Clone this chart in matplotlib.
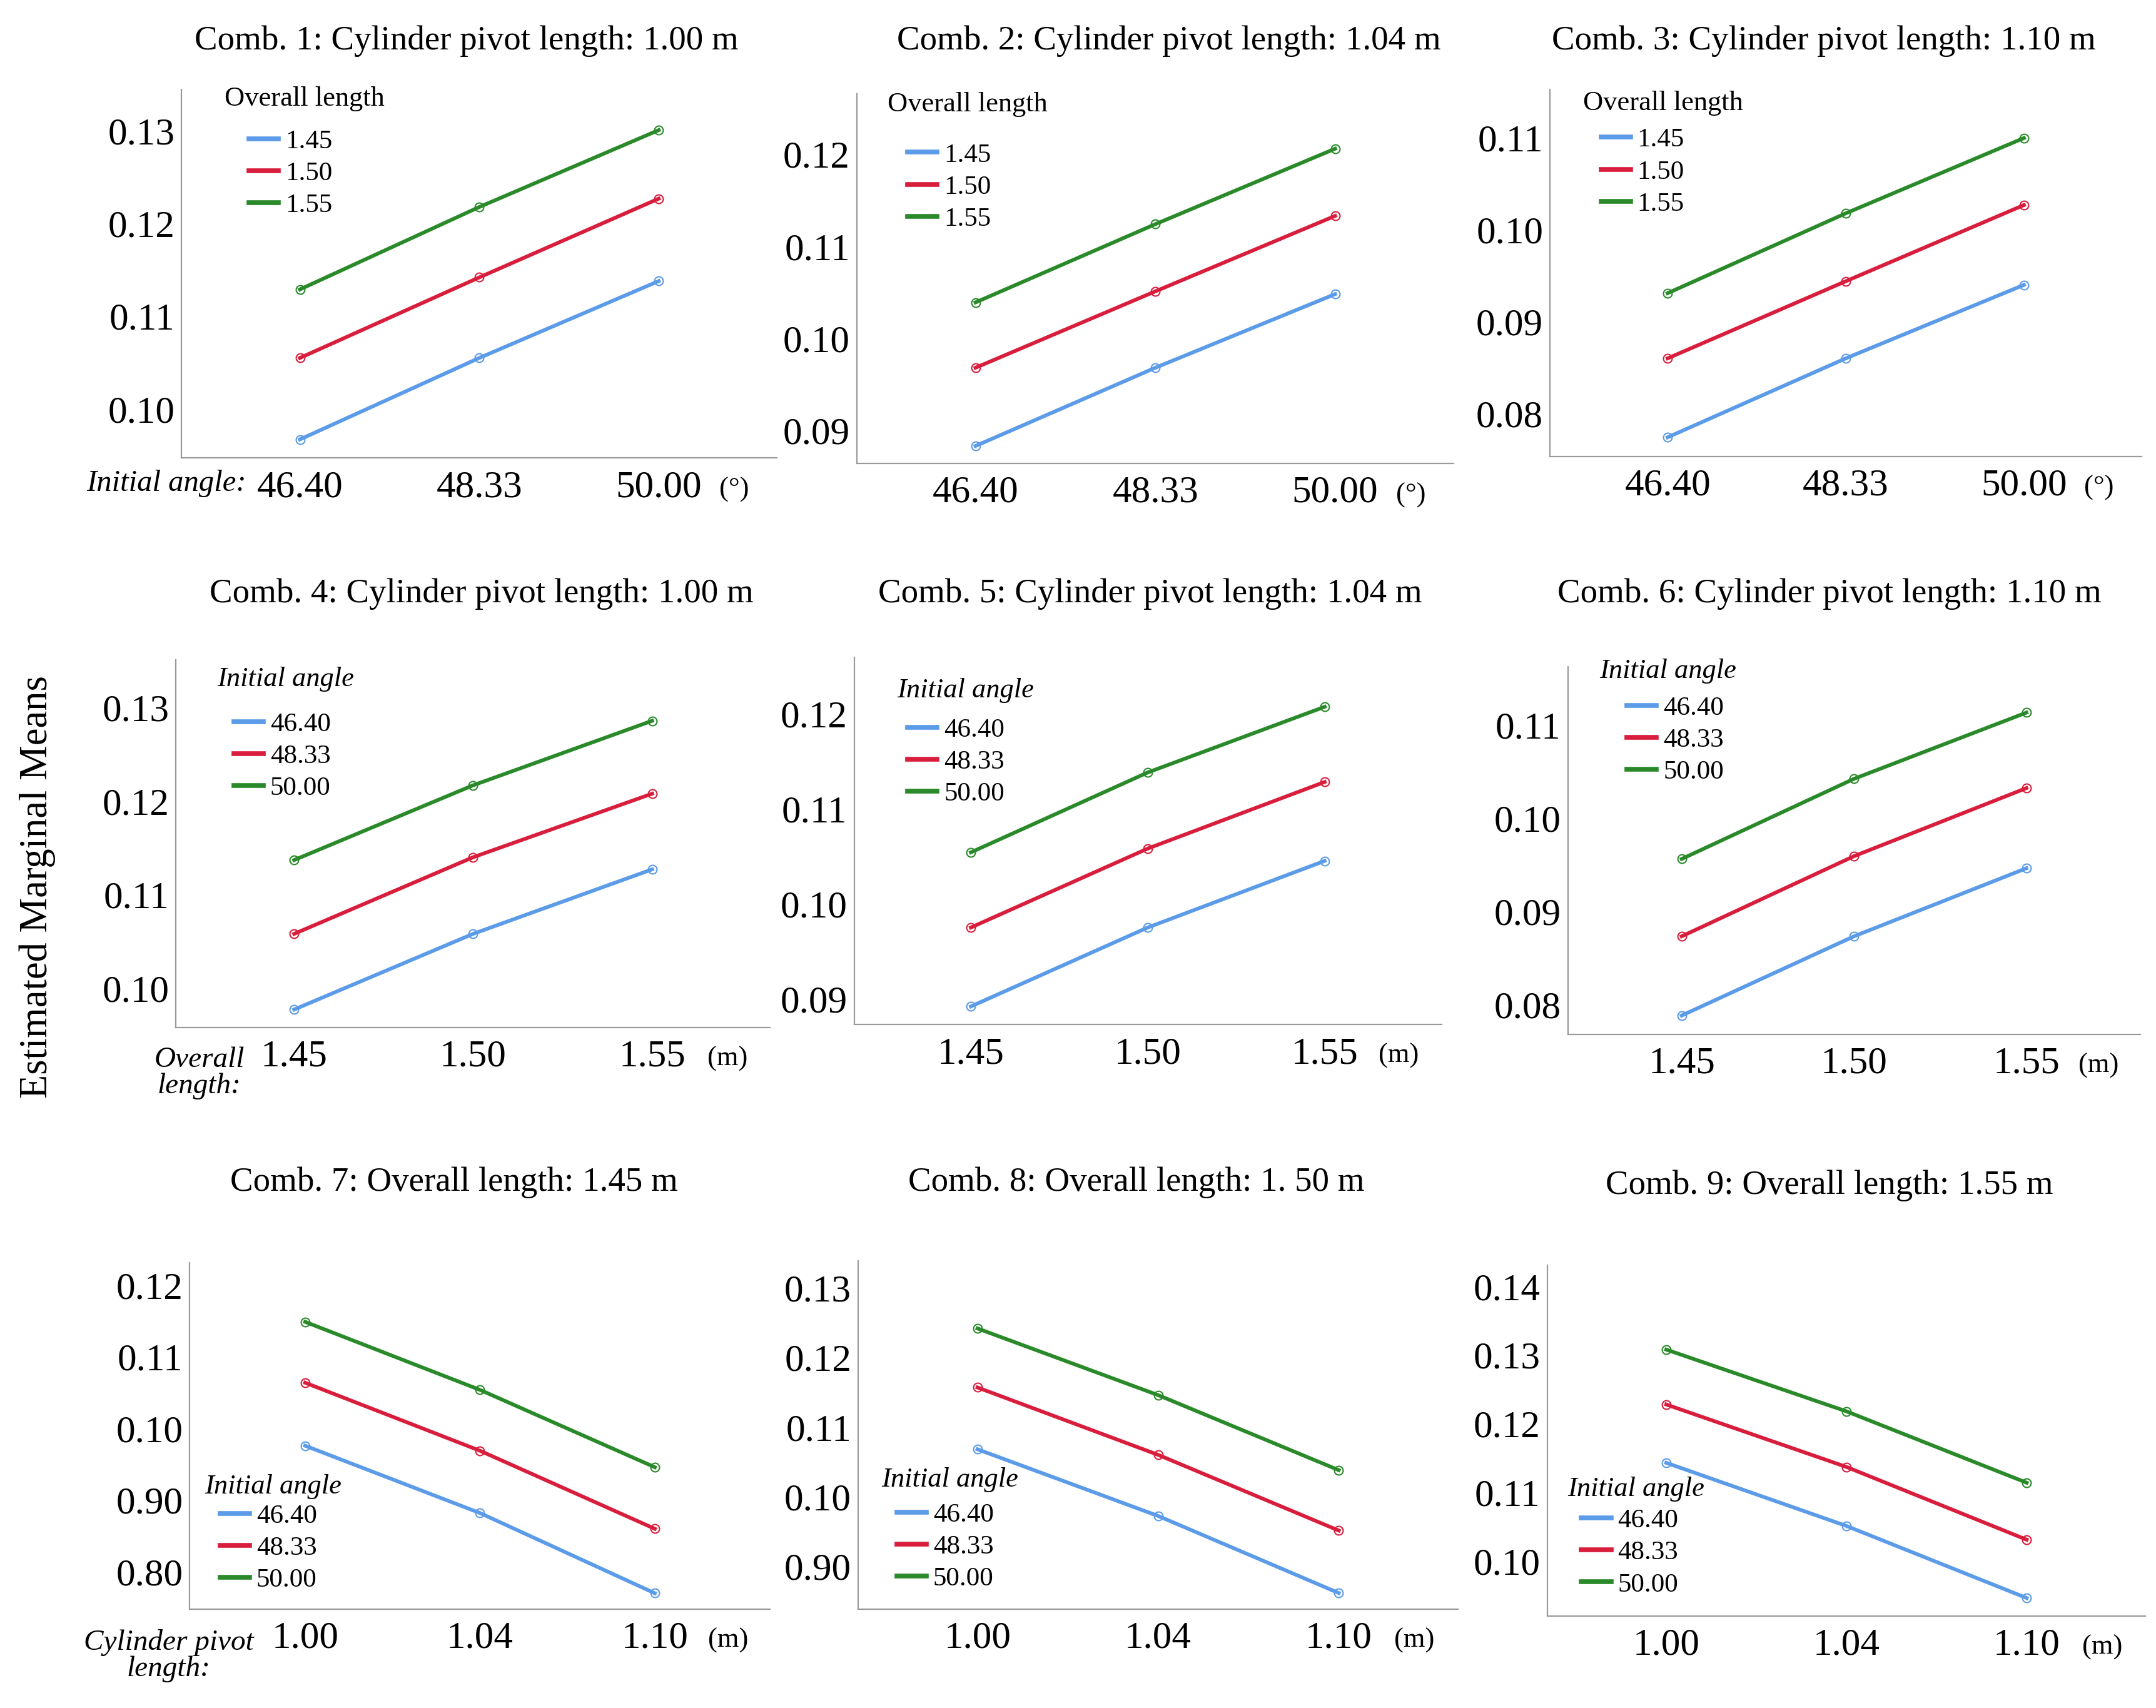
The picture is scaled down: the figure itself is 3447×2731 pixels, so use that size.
import matplotlib
matplotlib.use("Agg")
import matplotlib.pyplot as plt
from matplotlib.lines import Line2D

plt.rcParams["font.family"] = ["Liberation Serif", "DejaVu Serif"]

# categories
angles = ["46.40", "48.33", "50.00"]
lengths = ["1.45", "1.50", "1.55"]
pivots = ["1.00", "1.04", "1.10"]

# estimated marginal means, one row per legend series (blue, red, green)
comb1 = [[0.0967, 0.1055, 0.1138], [0.1055, 0.1142, 0.1227], [0.1129, 0.1218, 0.1301]]
comb2 = [[0.0883, 0.0968, 0.1048], [0.0968, 0.1051, 0.1133], [0.1039, 0.1124, 0.1206]]
comb3 = [[0.0774, 0.0860, 0.0940], [0.0860, 0.0944, 0.1027], [0.0931, 0.1018, 0.1100]]
comb4 = [[0.0977, 0.1058, 0.1127], [0.1058, 0.1140, 0.1208], [0.1137, 0.1217, 0.1286]]
comb5 = [[0.0892, 0.0975, 0.1045], [0.0975, 0.1058, 0.1128], [0.1054, 0.1138, 0.1207]]
comb6 = [[0.0788, 0.0873, 0.0946], [0.0873, 0.0959, 0.1032], [0.0956, 0.1042, 0.1113]]
comb7 = [[0.0976, 0.0882, 0.0770], [0.1064, 0.0969, 0.0860], [0.1149, 0.1054, 0.0946]]
comb8 = [[0.1068, 0.0972, 0.0861], [0.1157, 0.1060, 0.0951], [0.1242, 0.1146, 0.1038]]
comb9 = [[0.1143, 0.1051, 0.0946], [0.1228, 0.1137, 0.1031], [0.1308, 0.1218, 0.1114]]

titles = [
    "Comb. 1: Cylinder pivot length: 1.00 m",
    "Comb. 2: Cylinder pivot length: 1.04 m",
    "Comb. 3: Cylinder pivot length: 1.10 m",
    "Comb. 4: Cylinder pivot length: 1.00 m",
    "Comb. 5: Cylinder pivot length: 1.04 m",
    "Comb. 6: Cylinder pivot length: 1.10 m",
    "Comb. 7: Overall length: 1.45 m",
    "Comb. 8: Overall length: 1. 50 m",
    "Comb. 9: Overall length: 1.55 m",
]

yticks = [
    [0.10, 0.11, 0.12, 0.13],
    [0.09, 0.10, 0.11, 0.12],
    [0.08, 0.09, 0.10, 0.11],
    [0.10, 0.11, 0.12, 0.13],
    [0.09, 0.10, 0.11, 0.12],
    [0.08, 0.09, 0.10, 0.11],
    [0.08, 0.09, 0.10, 0.11, 0.12],
    [0.09, 0.10, 0.11, 0.12, 0.13],
    [0.10, 0.11, 0.12, 0.13, 0.14],
]
# tick labels as printed in the original (including its 0.90 / 0.80 typos)
ytick_labels = [
    ["0.10", "0.11", "0.12", "0.13"],
    ["0.09", "0.10", "0.11", "0.12"],
    ["0.08", "0.09", "0.10", "0.11"],
    ["0.10", "0.11", "0.12", "0.13"],
    ["0.09", "0.10", "0.11", "0.12"],
    ["0.08", "0.09", "0.10", "0.11"],
    ["0.80", "0.90", "0.10", "0.11", "0.12"],
    ["0.90", "0.10", "0.11", "0.12", "0.13"],
    ["0.10", "0.11", "0.12", "0.13", "0.14"],
]

data = [comb1, comb2, comb3, comb4, comb5, comb6, comb7, comb8, comb9]
colors = ["#5B9BE8", "#D81E3C", "#2A8A2A"]

W, H = 1568.0, 1242.0  # layout measured on a reduced copy
# left, right, top, bottom (px of reduced copy)
boxes = [
    (132, 565, 65, 333), (623, 1057, 68, 337), (1127, 1557, 65, 332),
    (128, 560, 480, 747), (621, 1048, 478, 745), (1140, 1556, 485, 752),
    (138, 560, 918, 1170), (624, 1060, 917, 1170), (1125, 1560, 920, 1175),
]
ylims = [
    (0.0947, 0.1345), (0.0864, 0.1266), (0.0753, 0.1153),
    (0.0958, 0.1351), (0.0873, 0.1259), (0.0768, 0.1162),
    (0.0748, 0.1232), (0.0838, 0.1339), (0.0920, 0.1431),
]
title_pos = [
    (339, 30), (850, 30), (1326, 30),
    (350, 432), (836, 432), (1330, 432),
    (330, 860), (826, 860), (1330, 862),
]
# legend: title x, title y, handle x, middle entry y (axes fraction)
leg_pos = [
    (0.072, 0.974, 0.113, 0.772), (0.051, 0.970, 0.085, 0.747), (0.056, 0.963, 0.086, 0.775),
    (0.069, 0.948, 0.097, 0.738), (0.073, 0.910, 0.091, 0.715), (0.055, 0.989, 0.103, 0.801),
    (0.026, 0.353, 0.052, 0.175), (0.039, 0.372, 0.064, 0.178), (0.034, 0.361, 0.057, 0.180),
]

fig = plt.figure(figsize=(34.48, 27.31), dpi=100)

for i in range(9):
    l, r, t, b = boxes[i]
    ax = fig.add_axes([l / W, 1 - b / H, (r - l) / W, (b - t) / H])
    row = i // 3
    if row == 0:
        xcats, leg_labels, leg_title, unit = angles, lengths, "Overall length", "(°)"
    elif row == 1:
        xcats, leg_labels, leg_title, unit = lengths, angles, "Initial angle", "(m)"
    else:
        xcats, leg_labels, leg_title, unit = pivots, angles, "Initial angle", "(m)"

    x = range(len(xcats))
    for k, series in enumerate(data[i]):
        ax.plot(x, series, color=colors[k], lw=4.3,
                marker="o", markersize=10, markerfacecolor="none",
                markeredgecolor=colors[k], markeredgewidth=1.5)

    ax.set_xlim(-0.66, 2.66)
    ax.set_ylim(*ylims[i])
    ax.set_xticks(list(x), xcats)
    ax.set_yticks(yticks[i], ytick_labels[i])
    ax.tick_params(axis="both", length=0, labelsize=44)
    ax.tick_params(axis="x", pad=14)
    ax.tick_params(axis="y", pad=8)
    for s in ["top", "right"]:
        ax.spines[s].set_visible(False)
    for s in ["left", "bottom"]:
        ax.spines[s].set_color("#9a9a9a")
        ax.spines[s].set_linewidth(1.6)

    ty = -0.085 if row < 2 else -0.09
    ax.text(2.42, ty, unit, transform=ax.get_xaxis_transform(),
            ha="center", va="center", fontsize=32)

    tx, tyy, hx, my = leg_pos[i]
    ax.text(tx, tyy, leg_title, transform=ax.transAxes, ha="left", va="center",
            fontsize=32, style="normal" if row == 0 else "italic")
    handles = [Line2D([], [], color=c, lw=5.5) for c in colors]
    ax.legend(handles, leg_labels, loc="center left", bbox_to_anchor=(hx, my),
              frameon=False, fontsize=31, handlelength=1.1, handletextpad=0.25,
              labelspacing=0.28, borderpad=0, borderaxespad=0)

    cx, cy = title_pos[i]
    fig.text(cx / W, 1 - cy / H, titles[i], ha="center", va="center", fontsize=39.5)

    if i == 0:
        ax.text(-0.3, -0.07, "Initial angle:", transform=ax.get_xaxis_transform(),
                ha="right", va="center", fontsize=35, style="italic")
    elif i == 3:
        ax.text(-0.53, -0.125, "Overall\nlength:", transform=ax.get_xaxis_transform(),
                ha="center", va="center", fontsize=34, style="italic", linespacing=1.0)
    elif i == 6:
        ax.text(-0.78, -0.135, "Cylinder pivot\nlength:", transform=ax.get_xaxis_transform(),
                ha="center", va="center", fontsize=34, style="italic", linespacing=1.0)

fig.text(27 / W, 1 - 645 / H, "Estimated Marginal Means", rotation=90,
         ha="center", va="center", fontsize=45)

fig.savefig("out.png", dpi=100)
